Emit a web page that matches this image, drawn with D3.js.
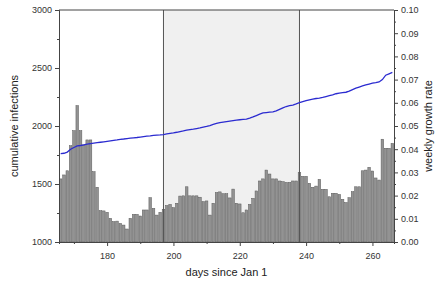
<!DOCTYPE html>
<html>
<head>
<meta charset="utf-8">
<script src="https://cdn.jsdelivr.net/npm/d3@7"></script>
<style>
  body { margin: 0; background: #fff; }
  svg { font-family: "Liberation Sans", Arial, sans-serif; }
  .axis text { fill: #333; font-size: 9px; }
  .axis path, .axis line { stroke: #444; }
</style>
</head>
<body>
<div id="chart"></div>
<script>
// first day shown, one bar / line point per day after that
const firstDay = 166;

// weekly growth rate (right axis), one per day
const growthRate = [
  0.0272, 0.0289, 0.0307, 0.0415, 0.0480, 0.0588, 0.0480, 0.0418, 0.0440, 0.0440,
  0.0303, 0.0236, 0.0135, 0.0134, 0.0128, 0.0102, 0.0088, 0.0090, 0.0080, 0.0073,
  0.0056, 0.0102, 0.0119, 0.0119, 0.0112, 0.0138, 0.0138, 0.0191, 0.0145, 0.0116,
  0.0128, 0.0141, 0.0157, 0.0162, 0.0148, 0.0167, 0.0198, 0.0199, 0.0238, 0.0199,
  0.0199, 0.0199, 0.0193, 0.0174, 0.0177, 0.0116, 0.0167, 0.0213, 0.0216, 0.0208,
  0.0208, 0.0190, 0.0228, 0.0167, 0.0164, 0.0126, 0.0138, 0.0162, 0.0188, 0.0220,
  0.0263, 0.0272, 0.0310, 0.0293, 0.0272, 0.0272, 0.0263, 0.0260, 0.0257, 0.0257,
  0.0263, 0.0263, 0.0299, 0.0283, 0.0283, 0.0253, 0.0236, 0.0241, 0.0270, 0.0227,
  0.0227, 0.0195, 0.0210, 0.0210, 0.0205, 0.0184, 0.0170, 0.0191, 0.0217, 0.0238,
  0.0238, 0.0307, 0.0310, 0.0322, 0.0306, 0.0276, 0.0267, 0.0443, 0.0404, 0.0404,
  0.0425
];

// cumulative infections (left axis), one per day
const cumulative = [
  1762, 1765, 1775, 1800, 1815, 1828, 1832, 1838, 1843, 1848,
  1852, 1856, 1860, 1864, 1868, 1872, 1876, 1880, 1885, 1888,
  1892, 1895, 1898, 1901, 1905, 1909, 1912, 1915, 1919, 1921,
  1923, 1926, 1932, 1937, 1941, 1946, 1952, 1957, 1964, 1969,
  1973, 1978, 1983, 1990, 1996, 2004, 2013, 2022, 2030, 2034,
  2038, 2042, 2046, 2050, 2054, 2057, 2060, 2068, 2078, 2090,
  2102, 2113, 2116, 2119, 2122, 2130, 2143, 2156, 2168, 2175,
  2180, 2190, 2201, 2210, 2218, 2226, 2232, 2237, 2241, 2247,
  2254, 2261, 2268, 2278, 2284, 2288, 2291, 2300, 2313, 2326,
  2336, 2345, 2354, 2362, 2369, 2374, 2380, 2400, 2438, 2450,
  2462
];

// shaded window (days)
const shadeWindow = [197, 238];

const xTicks = [180, 200, 220, 240, 260];
const leftTicks = [1000, 1500, 2000, 2500, 3000];
const rightTicks = [0, 0.01, 0.02, 0.03, 0.04, 0.05, 0.06, 0.07, 0.08, 0.09, 0.10];

class GrowthChart {
  constructor(_config) {
    this.config = {
      parentElement: _config.parentElement,
      containerWidth: 440,
      containerHeight: 286,
      margin: { top: 10, right: 46, bottom: 44, left: 59 }
    };
    this.initVis();
  }

  initVis() {
    let vis = this;
    vis.width = vis.config.containerWidth - vis.config.margin.left - vis.config.margin.right;
    vis.height = vis.config.containerHeight - vis.config.margin.top - vis.config.margin.bottom;

    vis.xScale = d3.scaleLinear().domain([165.5, 266.5]).range([0, vis.width]);
    vis.yLeft = d3.scaleLinear().domain([1000, 3000]).range([vis.height, 0]);
    vis.yRight = d3.scaleLinear().domain([0, 0.10]).range([vis.height, 0]);

    vis.svg = d3.select(vis.config.parentElement).append('svg')
      .attr('width', vis.config.containerWidth)
      .attr('height', vis.config.containerHeight);

    vis.chart = vis.svg.append('g')
      .attr('transform', `translate(${vis.config.margin.left},${vis.config.margin.top})`);

    vis.renderVis();
  }

  renderVis() {
    let vis = this;
    const days = growthRate.map((d, i) => firstDay + i);
    const step = vis.xScale(1) - vis.xScale(0);
    const barW = step * 0.78;

    // shaded window
    vis.chart.append('rect')
      .attr('x', vis.xScale(shadeWindow[0]))
      .attr('y', 0)
      .attr('width', vis.xScale(shadeWindow[1]) - vis.xScale(shadeWindow[0]))
      .attr('height', vis.height)
      .attr('fill', '#f0f0f0');

    // bars
    vis.chart.selectAll('.bar')
      .data(growthRate)
      .join('rect')
      .attr('class', 'bar')
      .attr('x', (d, i) => vis.xScale(days[i]) - barW / 2)
      .attr('y', d => vis.yRight(d))
      .attr('width', barW)
      .attr('height', d => vis.height - vis.yRight(d))
      .attr('fill', '#939393')
      .attr('stroke', '#5a5a5a')
      .attr('stroke-width', 0.5);

    // window borders
    vis.chart.selectAll('.window-line')
      .data(shadeWindow)
      .join('line')
      .attr('class', 'window-line')
      .attr('x1', d => vis.xScale(d)).attr('x2', d => vis.xScale(d))
      .attr('y1', 0).attr('y2', vis.height)
      .attr('stroke', '#555')
      .attr('stroke-width', 1);

    // cumulative line
    const line = d3.line()
      .x((d, i) => vis.xScale(days[i]))
      .y(d => vis.yLeft(d));
    vis.chart.append('path')
      .datum(cumulative)
      .attr('d', line)
      .attr('fill', 'none')
      .attr('stroke', '#2b2bd0')
      .attr('stroke-width', 1.3);

    // top frame
    vis.chart.append('line')
      .attr('x1', 0).attr('x2', vis.width)
      .attr('y1', 0).attr('y2', 0)
      .attr('stroke', '#444');

    // axes (major + minor ticks)
    const xMinor = d3.axisBottom(vis.xScale).tickValues([170, 190, 210, 230, 250]).tickSize(2).tickFormat('');
    const xAxis = d3.axisBottom(vis.xScale).tickValues(xTicks).tickSize(4).tickSizeOuter(0).tickPadding(7);
    const lMinor = d3.axisLeft(vis.yLeft).tickValues([1250, 1750, 2250, 2750]).tickSize(2).tickFormat('');
    const lAxis = d3.axisLeft(vis.yLeft).tickValues(leftTicks).tickSize(4).tickSizeOuter(0)
      .tickPadding(3).tickFormat(d3.format('d'));
    const rMinor = d3.axisRight(vis.yRight)
      .tickValues(rightTicks.slice(0, -1).map(d => d + 0.005)).tickSize(2).tickFormat('');
    const rAxis = d3.axisRight(vis.yRight).tickValues(rightTicks).tickSize(4).tickSizeOuter(0)
      .tickPadding(3).tickFormat(d3.format('.2f'));

    vis.chart.append('g').attr('class', 'axis')
      .attr('transform', `translate(0,${vis.height})`).call(xMinor);
    vis.chart.append('g').attr('class', 'axis')
      .attr('transform', `translate(0,${vis.height})`).call(xAxis);
    vis.chart.append('g').attr('class', 'axis').call(lMinor);
    vis.chart.append('g').attr('class', 'axis').call(lAxis);
    vis.chart.append('g').attr('class', 'axis')
      .attr('transform', `translate(${vis.width},0)`).call(rMinor);
    vis.chart.append('g').attr('class', 'axis')
      .attr('transform', `translate(${vis.width},0)`).call(rAxis);

    // titles
    vis.svg.append('text')
      .attr('x', vis.config.margin.left + vis.width / 2)
      .attr('y', 276)
      .attr('text-anchor', 'middle')
      .attr('font-size', 11).attr('fill', '#222')
      .text('days since Jan 1');

    vis.svg.append('text')
      .attr('transform', `translate(18,${vis.config.margin.top + vis.height / 2}) rotate(-90)`)
      .attr('text-anchor', 'middle')
      .attr('font-size', 11).attr('fill', '#222')
      .text('cumulative infections');

    vis.svg.append('text')
      .attr('transform', `translate(432,${vis.config.margin.top + vis.height / 2}) rotate(-90)`)
      .attr('text-anchor', 'middle')
      .attr('font-size', 11).attr('fill', '#222')
      .text('weekly growth rate');
  }
}

new GrowthChart({ parentElement: '#chart' });
</script>
</body>
</html>
